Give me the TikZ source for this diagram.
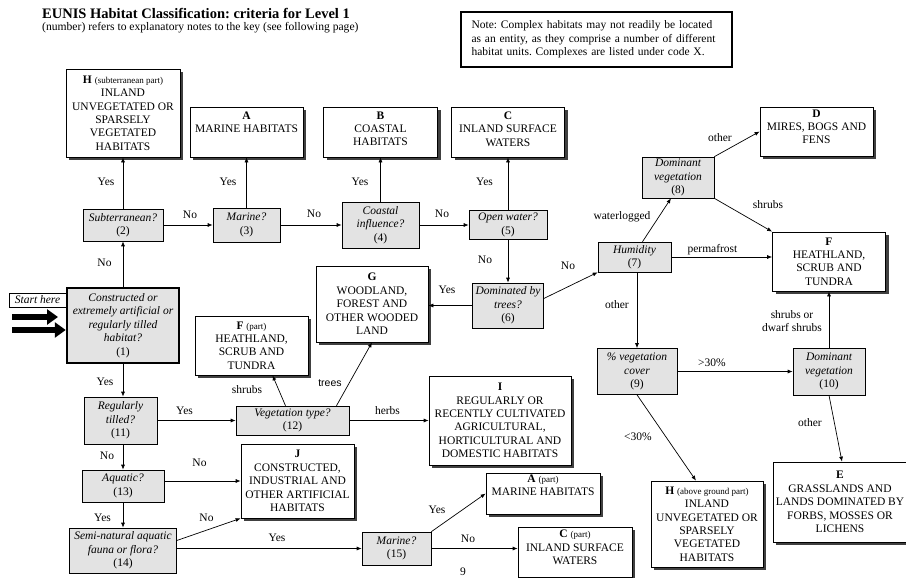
\documentclass[tikz,border=0pt]{standalone}
\usepackage{fontspec}
\setmainfont{Liberation Serif}
\setsansfont{Liberation Sans}
\usetikzlibrary{arrows.meta,shadows}
\frenchspacing

\begin{document}
\begin{tikzpicture}[x=1pt, y=-1pt, >={Latex[length=5pt,width=4pt]},
    txt/.style={font=\fontsize{11.5}{13.4}\selectfont},
    sz/.style 2 args={minimum width=#1pt, minimum height=#2pt},
    hab/.style={txt, draw, fill=white, align=center, inner sep=0pt, line width=0.7pt,
        drop shadow={shadow xshift=3pt, shadow yshift=-3pt, fill=black!75, opacity=1}},
    quest/.style={font=\fontsize{11.5}{13.4}\selectfont\itshape, draw, fill=gray!22,
        align=center, inner sep=0pt, line width=0.6pt},
    lbl/.style={txt, inner sep=0pt},
    conn/.style={->, line width=0.7pt},
    bigarrow/.style={-{Triangle[length=11pt,width=15pt]}, line width=6.5pt}]
    \useasboundingbox (0,0) rectangle (906,578);

    % heading and note
    \node[anchor=base west, inner sep=0pt, font=\fontsize{14.5}{17}\selectfont\bfseries] (title) at (42,18.3)
        {EUNIS Habitat Classification: criteria for Level 1};
    \node[anchor=base west, inner sep=0pt, font=\fontsize{11.6}{13}\selectfont] (subtitle) at (42,31)
        {(number) refers to explanatory notes to the key (see following page)};
    \node[draw, line width=2.5pt, sz={271}{55}, text width=250pt, align=left, inner sep=0pt,
        font=\fontsize{11.5}{13.5}\selectfont] (note) at (596.5,39.5)
        {Note: Complex habitats may not readily be located\\as an entity, as they comprise a number of different\\habitat units. Complexes are listed under code X.};

    % questions
    \node[quest, line width=2.5pt, sz={112}{75}] (n1) at (123,325.5)
        {Constructed or\\extremely artificial or\\regularly tilled\\habitat?\\\textup{(1)}};
    \node[quest, sz={80}{32}] (n2) at (123,225) {Subterranean?\\\textup{(2)}};
    \node[quest, sz={67}{34}] (n3) at (246.5,225) {Marine?\\\textup{(3)}};
    \node[quest, sz={77}{46}] (n4) at (380.5,225) {Coastal\\influence?\\\textup{(4)}};
    \node[quest, sz={78}{29}] (n5) at (508,225) {Open water?\\\textup{(5)}};
    \node[quest, sz={71}{45}] (n6) at (508,305.5) {Dominated by\\trees?\\\textup{(6)}};
    \node[quest, sz={73}{30}] (n7) at (634.5,257) {Humidity\\\textup{(7)}};
    \node[quest, sz={72}{41}] (n8) at (678,177.5) {Dominant\\vegetation\\\textup{(8)}};
    \node[quest, sz={80}{46}] (n9) at (637,371.5) {\% vegetation\\cover\\\textup{(9)}};
    \node[quest, sz={72}{47}] (n10) at (829,371.5) {Dominant\\vegetation\\\textup{(10)}};
    \node[quest, sz={73}{47}] (n11) at (120.5,420.5) {Regularly\\tilled?\\\textup{(11)}};
    \node[quest, sz={113}{29}] (n12) at (292.5,420.5) {Vegetation type?\\\textup{(12)}};
    \node[quest, sz={82}{32}] (n13) at (123,486) {Aquatic?\\\textup{(13)}};
    \node[quest, sz={107}{45}] (n14) at (123,550.5) {Semi-natural aquatic\\fauna or flora?\\\textup{(14)}};
    \node[quest, sz={69}{33}] (n15) at (396.5,548.5) {Marine?\\\textup{(15)}};

    % habitat types
    \node[hab, sz={114}{88}] (hsub) at (123,113)
        {\textbf{H} {\small (subterranean part)}\\INLAND\\UNVEGETATED OR\\SPARSELY\\VEGETATED\\HABITATS};
    \node[hab, sz={113}{50}] (a) at (246.5,132) {\textbf{A}\\MARINE HABITATS\\[6pt]\mbox{}};
    \node[hab, sz={114}{50}] (b) at (380.5,132) {\textbf{B}\\COASTAL\\HABITATS\\[-7pt]\mbox{}};
    \node[hab, sz={113}{50}] (c) at (508,132) {\textbf{C}\\INLAND SURFACE\\WATERS\\[-7pt]\mbox{}};
    \node[hab, sz={113}{49}] (d) at (816.5,131.5) {\textbf{D}\\MIRES, BOGS AND\\FENS\\[-4pt]\mbox{}};
    \node[hab, sz={113}{59}] (f) at (829,261.5) {\textbf{F}\\HEATHLAND,\\SCRUB AND\\TUNDRA};
    \node[hab, sz={112}{76}] (g) at (372,304) {\textbf{G}\\WOODLAND,\\FOREST AND\\OTHER WOODED\\LAND};
    \node[hab, sz={113}{59}] (fpart) at (251.5,345.5) {\textbf{F} {\small (part)}\\HEATHLAND,\\SCRUB AND\\TUNDRA};
    \node[hab, sz={142}{89}] (i) at (500,420.5)
        {\textbf{I}\\REGULARLY OR\\RECENTLY CULTIVATED\\AGRICULTURAL,\\HORTICULTURAL AND\\DOMESTIC HABITATS};
    \node[hab, sz={113}{74}] (j) at (297.5,481)
        {\textbf{J}\\CONSTRUCTED,\\INDUSTRIAL AND\\OTHER ARTIFICIAL\\HABITATS};
    \node[hab, sz={114}{41}] (apart) at (543,493.5) {\textbf{A} {\small (part)}\\MARINE HABITATS\\[3pt]\mbox{}};
    \node[hab, sz={114}{50}] (cpart) at (575,552) {\textbf{C} {\small (part)}\\INLAND SURFACE\\WATERS\\[-4pt]\mbox{}};
    \node[hab, sz={134}{80}] (e) at (840,502)
        {\textbf{E}\\GRASSLANDS AND\\LANDS DOMINATED BY\\FORBS, MOSSES OR\\LICHENS};
    \node[hab, sz={112}{86}] (hag) at (707,524)
        {\textbf{H} {\small (above ground part)}\\INLAND\\UNVEGETATED OR\\SPARSELY\\VEGETATED\\HABITATS};

    % start
    \node[draw, line width=0.6pt, inner sep=0pt, sz={57}{14}, font=\fontsize{11.5}{13.4}\selectfont\itshape] (start) at (37.5,300) {Start here};
    \coordinate (s1) at (12,317);
    \coordinate (s1e) at (58,317);
    \coordinate (s2) at (12,330);
    \draw[bigarrow] (s1) -- (s1e);
    \draw[bigarrow] (s2) -- (s2 -| n1.west);

    % connectors
    \draw[conn] (n1) -- (n2);
    \draw[conn] (n2) -- (hsub);
    \draw[conn] (n2) -- (n3);
    \draw[conn] (n3) -- (a);
    \draw[conn] (n3) -- (n4);
    \draw[conn] (n4) -- (b);
    \draw[conn] (n4) -- (n5);
    \draw[conn] (n5) -- (c);
    \draw[conn] (n5) -- (n6);
    \draw[conn] (n6.west) -- (n6.west -| g.east);
    \draw[conn] ([yshift=7pt]n6.east) -- (n7.south west);
    \draw[conn] ([xshift=8pt]n7.north) -- ([xshift=-7pt]n8.south);
    \draw[conn] (n8.north east) -- (d.west);
    \draw[conn] (n8.south east) -- (f.north west);
    \draw[conn] (n7.east) -- (n7.east -| f.west);
    \draw[conn] (n7.south -| n9.north) -- (n9.north);
    \draw[conn] (n9) -- (n10);
    \draw[conn] (n10) -- (f);
    \draw[conn] (n10.south) -- ([xshift=2pt]e.north);
    \draw[conn] (n9.south) -- ([xshift=-11pt]hag.north);
    \draw[conn] (n1.south) -- (n1.south |- n11.north);
    \draw[conn] (n11) -- (n12);
    \draw[conn] ([xshift=-7pt]n12.north) -- ([xshift=21pt]fpart.south);
    \draw[conn] ([xshift=44pt]n12.north) -- (g.south);
    \draw[conn] (n12) -- (i);
    \draw[conn] (n11.south -| n13.north) -- (n13.north);
    \draw[conn] (n13.east |- j.west) -- (j.west);
    \draw[conn] (n13) -- (n14);
    \draw[conn] ([yshift=10pt]n14.east) -- (j.south west);
    \draw[conn] (n14.east |- n15.west) -- (n15.west);
    \draw[conn] (n15.north east) -- (apart.west);
    \draw[conn] (n15.east) -- (n15.east -| cpart.west);

    % connector labels
    \node[lbl] (l1) at (104.5,263) {No};
    \node[lbl] (l2) at (106,182) {Yes};
    \node[lbl] (l3) at (190,215) {No};
    \node[lbl] (l4) at (228,182) {Yes};
    \node[lbl] (l5) at (314,214) {No};
    \node[lbl] (l6) at (360,182) {Yes};
    \node[lbl] (l7) at (442,214) {No};
    \node[lbl] (l8) at (484.5,182) {Yes};
    \node[lbl] (l9) at (485,260) {No};
    \node[lbl] (l10) at (447,290) {Yes};
    \node[lbl] (l11) at (568,266) {No};
    \node[lbl] (l12) at (622,217) {waterlogged};
    \node[lbl] (l13) at (720,138) {other};
    \node[lbl] (l14) at (768,205) {shrubs};
    \node[lbl] (l15) at (712.5,250) {permafrost};
    \node[lbl] (l16) at (617,305) {other};
    \node[lbl] (l17) at (712,363) {>30\%};
    \node[lbl, align=center] (l18) at (792,321) {shrubs or\\dwarf shrubs};
    \node[lbl] (l19) at (810,423) {other};
    \node[lbl] (l20) at (638,437) {<30\%};
    \node[lbl] (l21) at (105,382) {Yes};
    \node[lbl] (l22) at (184.5,411) {Yes};
    \node[lbl] (l23) at (247,390) {shrubs};
    \node[lbl, font=\fontsize{10.5}{12}\selectfont\sffamily] (l24) at (330,383) {trees};
    \node[lbl] (l25) at (387.5,411) {herbs};
    \node[lbl] (l26) at (107,456) {No};
    \node[lbl] (l27) at (199.5,463) {No};
    \node[lbl] (l28) at (102.5,518) {Yes};
    \node[lbl] (l29) at (206.5,518) {No};
    \node[lbl] (l30) at (277,538) {Yes};
    \node[lbl] (l31) at (437,510) {Yes};
    \node[lbl] (l32) at (468,539) {No};
    \node[lbl] (pg) at (463,572) {9};
\end{tikzpicture}
\end{document}
